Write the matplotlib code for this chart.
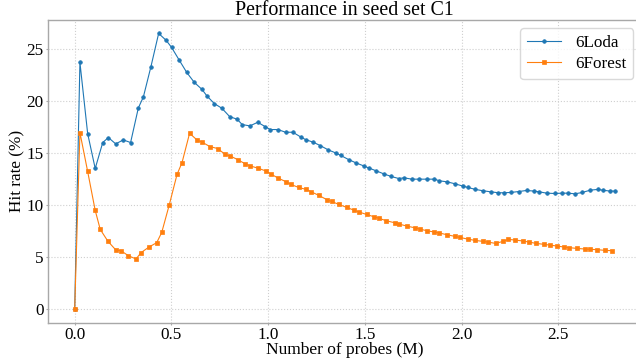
import matplotlib
matplotlib.use("Agg")
import matplotlib.pyplot as plt

loda_x = [0.000, 0.027, 0.067, 0.106, 0.145, 0.174, 0.212, 0.251, 0.289, 0.329,
          0.355, 0.394, 0.434, 0.473, 0.501, 0.539, 0.579, 0.618, 0.658, 0.684,
          0.722, 0.761, 0.801, 0.840, 0.866, 0.906, 0.946, 0.985, 1.011, 1.051,
          1.090, 1.128, 1.168, 1.194, 1.233, 1.269, 1.311, 1.349, 1.376, 1.416,
          1.454, 1.494, 1.519, 1.559, 1.598, 1.636, 1.676, 1.703, 1.743, 1.781,
          1.821, 1.860, 1.886, 1.926, 1.967, 2.007, 2.033, 2.072, 2.112, 2.151,
          2.191, 2.217, 2.256, 2.296, 2.336, 2.375, 2.401, 2.441, 2.481, 2.520,
          2.548, 2.587, 2.625, 2.665, 2.703, 2.730, 2.768, 2.792]
loda_y = [0, 23.75, 16.89, 13.53, 16.03, 16.51, 15.90, 16.28, 16.03, 19.36,
          20.42, 23.33, 26.54, 25.87, 25.19, 24.01, 22.79, 21.83, 21.15, 20.51,
          19.78, 19.33, 18.53, 18.27, 17.76, 17.63, 17.98, 17.56, 17.28, 17.28,
          17.02, 17.02, 16.57, 16.31, 16.06, 15.74, 15.32, 15.03, 14.78, 14.39,
          14.07, 13.78, 13.59, 13.30, 13.01, 12.76, 12.56, 12.63, 12.50, 12.50,
          12.50, 12.50, 12.34, 12.24, 12.05, 11.83, 11.70, 11.51, 11.38, 11.28,
          11.19, 11.19, 11.22, 11.31, 11.41, 11.35, 11.28, 11.15, 11.12, 11.15,
          11.15, 11.09, 11.22, 11.44, 11.51, 11.44, 11.35, 11.35]

forest_x = [0.000, 0.027, 0.067, 0.106, 0.132, 0.172, 0.213, 0.239, 0.277, 0.317,
            0.343, 0.384, 0.424, 0.450, 0.489, 0.529, 0.555, 0.594, 0.632, 0.659,
            0.699, 0.739, 0.777, 0.803, 0.842, 0.882, 0.907, 0.947, 0.987, 1.013,
            1.052, 1.094, 1.118, 1.158, 1.197, 1.223, 1.263, 1.302, 1.328, 1.367,
            1.406, 1.443, 1.471, 1.509, 1.547, 1.574, 1.612, 1.654, 1.678, 1.717,
            1.757, 1.783, 1.822, 1.860, 1.886, 1.924, 1.965, 1.991, 2.031, 2.070,
            2.110, 2.136, 2.176, 2.215, 2.241, 2.279, 2.318, 2.348, 2.386, 2.427,
            2.455, 2.493, 2.530, 2.558, 2.596, 2.637, 2.662, 2.701, 2.741, 2.777]
forest_y = [0, 16.99, 13.24, 9.49, 7.66, 6.51, 5.67, 5.61, 5.13, 4.81,
            5.42, 5.96, 6.38, 7.37, 10.03, 12.95, 14.10, 16.92, 16.28, 16.06,
            15.64, 15.45, 14.90, 14.74, 14.39, 13.97, 13.78, 13.56, 13.30, 13.01,
            12.60, 12.24, 11.99, 11.70, 11.51, 11.28, 10.93, 10.54, 10.35, 10.06,
            9.78, 9.52, 9.33, 9.10, 8.88, 8.72, 8.49, 8.30, 8.17, 7.98,
            7.82, 7.69, 7.53, 7.40, 7.31, 7.15, 6.99, 6.89, 6.73, 6.60,
            6.51, 6.44, 6.31, 6.51, 6.70, 6.63, 6.54, 6.44, 6.31, 6.22,
            6.15, 6.06, 5.96, 5.90, 5.83, 5.77, 5.74, 5.71, 5.64, 5.61]

labels = ["6Loda", "6Forest"]
title = "Performance in seed set C1"
xlabel = "Number of probes (M)"
ylabel = "Hit rate (%)"
xticks = [0.0, 0.5, 1.0, 1.5, 2.0, 2.5]
yticks = [0, 5, 10, 15, 20, 25]

plt.rcParams['font.family'] = ['Liberation Serif', 'DejaVu Serif']

fig = plt.figure(figsize=(6.36, 3.64), dpi=100)
ax = fig.add_axes([0.075, 0.1135, 0.934, 0.8325])

ax.plot(loda_x, loda_y, marker='o', markersize=2.6, markeredgewidth=0.5,
        linewidth=0.8, color='#1f77b4', label=labels[0])
ax.plot(forest_x, forest_y, marker='s', markersize=2.6, markeredgewidth=0.5,
        linewidth=0.8, color='#ff7f0e', label=labels[1])

ax.grid(True, linestyle=':', color='#cfcfcf', linewidth=0.8)
ax.set_axisbelow(True)
for s in ax.spines.values():
    s.set_color('#a8a8a8')
    s.set_linewidth(1.0)
ax.tick_params(colors='#a8a8a8', labelcolor='black', labelsize=12.3,
               length=1.5, pad=1.5)
ax.set_xticks(xticks)
ax.set_yticks(yticks)
ax.set_title(title, fontsize=14.4, pad=3.4)
ax.set_xlabel(xlabel, fontsize=12.5, labelpad=-0.5)
ax.set_ylabel(ylabel, fontsize=12.3, labelpad=0.5)

leg = ax.legend(loc='upper right', fontsize=12.3, framealpha=0.8,
                edgecolor='#d0d0d0', labelspacing=0.3)

fig.savefig('out.png', dpi=100)
